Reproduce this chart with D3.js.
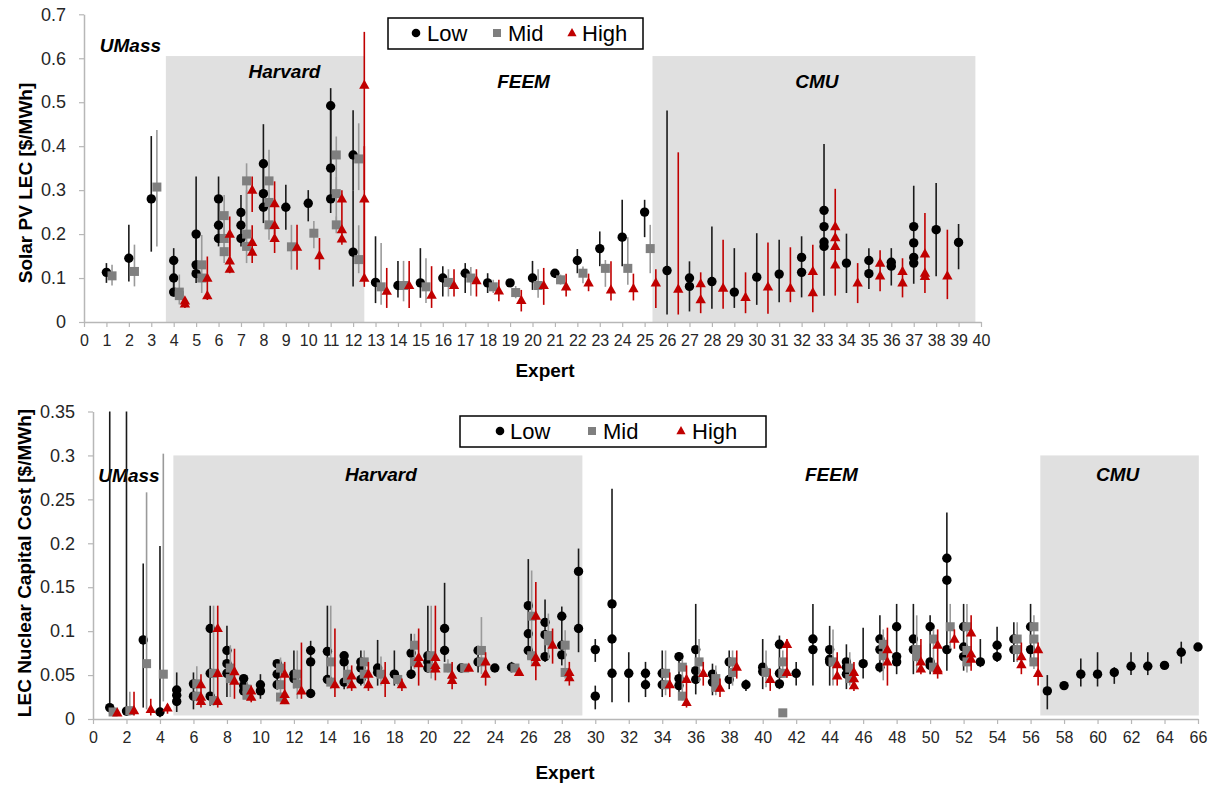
<!DOCTYPE html>
<html><head><meta charset="utf-8">
<script src="https://cdn.jsdelivr.net/npm/d3@7"></script>
<style>body{margin:0;background:#fff} svg text{font-family:"Liberation Sans",Arial,sans-serif}</style>
</head><body><svg id="c" width="1211" height="787"></svg>
<script>
// ---------- DATA : [expert, value, low end of bar, high end of bar] ----------
const topXTicks = d3.range(0, 41, 1);
const topYTicks = [0, 0.1, 0.2, 0.3, 0.4, 0.5, 0.6, 0.7];
const botXTicks = d3.range(0, 67, 2);
const botYTicks = [0, 0.05, 0.1, 0.15, 0.2, 0.25, 0.3, 0.35];
const seriesNames = ["Low", "Mid", "High"];

const topBands = [[3.65, 12.5, 0.605], [25.35, 39.75, 0.605]];
const topGroupLabels = [["UMass", 2.07, 0.614], ["Harvard", 8.94, 0.555], ["FEEM", 19.6, 0.532], ["CMU", 32.68, 0.532]];
const botBands = [[4.8, 29.23, 0.3], [56.58, 66.05, 0.3]];
const botGroupLabels = [["UMass", 2.15, 0.270], ["Harvard", 17.2, 0.271], ["FEEM", 44.1, 0.271], ["CMU", 61.2, 0.271]];

const topLow = [
[1,0.113,0.089,0.134],[2,0.145,0.092,0.221],[3,0.28,0.16,0.423],
[4,0.14,0.1,0.168],[4,0.1,0.07,0.14],[4,0.068,0.058,0.1],
[5,0.2,0.13,0.331],[5,0.13,0.1,0.2],[5,0.11,0.089,0.13],
[6,0.28,0.22,0.331],[6,0.22,0.19,0.28],[6,0.19,0.172,0.22],
[7,0.249,0.22,0.289],[7,0.22,0.19,0.25],[7,0.19,0.172,0.22],
[8,0.36,0.29,0.45],[8,0.292,0.26,0.36],[8,0.261,0.225,0.29],
[9,0.261,0.21,0.312],[10,0.27,0.229,0.3],
[11,0.492,0.35,0.532],[11,0.35,0.28,0.49],[11,0.28,0.248,0.35],
[12,0.38,0.3,0.482],[12,0.159,0.081,0.3],
[13,0.09,0.043,0.195],[14,0.083,0.056,0.139],[15,0.089,0.055,0.168],
[16,0.1,0.058,0.127],[17,0.111,0.066,0.134],[18,0.089,0.066,0.111],
[19,0.089,null,null],[20,0.1,0.073,0.139],[21,0.111,0.1,0.119],
[22,0.14,0.111,0.166],[23,0.167,0.127,0.206],[24,0.193,0.127,0.278],
[25,0.25,0.193,0.278],[26,0.117,0.017,0.481],
[27,0.1,0.024,0.138],[27,0.081,null,null],[28,0.092,0.03,0.217],
[29,0.068,0.032,0.168],[30,0.102,0.039,0.202],[31,0.109,0.045,0.187],
[32,0.147,0.056,0.195],[32,0.113,null,null],
[33,0.254,0.06,0.405],[33,0.217,null,null],[33,0.182,null,null],[33,0.172,null,null],
[34,0.134,0.066,0.201],[35,0.14,0.075,0.168],[35,0.11,null,null],
[36,0.136,0.083,0.168],[36,0.127,null,null],
[37,0.217,0.087,0.31],[37,0.18,null,null],[37,0.147,null,null],[37,0.134,null,null],
[38,0.21,0.104,0.316],[39,0.181,0.12,0.223]
];
const topMid = [
[1,0.105,0.083,0.13],[2,0.115,0.081,0.176],[3,0.307,0.172,0.437],
[4,0.068,0.04,0.108],[4,0.06,null,null],
[5,0.13,0.066,0.198],[5,0.1,null,null],
[6,0.242,0.16,0.289],[6,0.19,0.134,0.242],[6,0.16,null,null],
[7,0.321,0.2,0.361],[7,0.2,0.134,0.3],[7,0.172,null,null],
[8,0.321,0.22,0.392],[8,0.272,null,null],[8,0.221,0.187,0.27],
[9,0.171,0.119,0.221],[10,0.202,0.168,0.23],
[11,0.38,0.3,0.422],[11,0.292,0.22,0.33],[11,0.221,0.202,0.24],
[12,0.371,0.3,0.452],[12,0.142,0.111,0.22],
[13,0.08,0.039,0.18],[14,0.083,0.047,0.139],[15,0.08,0.043,0.145],
[16,0.09,0.058,0.12],[17,0.1,0.06,0.125],[18,0.08,0.066,0.096],
[19,0.067,0.054,0.082],[20,0.083,0.055,0.12],[21,0.096,0.085,0.108],
[22,0.111,0.088,0.126],[23,0.122,0.08,0.141],[24,0.122,0.085,0.193],
[25,0.167,0.111,0.221]
];
const topHigh = [
[4,0.048,0.032,0.056],[4,0.041,null,null],
[5,0.1,0.05,0.149],[5,0.06,null,null],
[6,0.2,0.15,0.24],[6,0.139,0.111,0.2],[6,0.12,null,null],
[7,0.3,0.25,0.331],[7,0.181,0.134,0.22],[7,0.159,null,null],
[8,0.269,0.2,0.32],[8,0.22,null,null],[8,0.19,0.157,0.22],
[9,0.17,0.119,0.221],[10,0.151,0.119,0.191],
[11,0.28,0.25,0.3],[11,0.21,0.176,0.25],[11,0.189,null,null],
[12,0.539,0.3,0.66],[12,0.28,0.1,0.4],[12,0.1,0.08,0.28],
[13,0.07,0.032,0.123],[14,0.083,0.032,0.139],[15,0.061,0.032,0.127],
[16,0.083,0.058,0.12],[17,0.094,0.058,0.12],[18,0.071,0.047,0.096],
[19,0.049,0.024,0.073],[20,0.083,0.039,0.123],[21,0.08,0.058,0.11],
[22,0.089,0.07,0.11],[23,0.073,0.049,0.138],[24,0.076,0.049,0.11],
[25,0.089,0.032,0.12],[26,0.075,0.017,0.386],
[27,0.087,0.02,0.113],[27,0.051,null,null],[28,0.077,0.03,0.187],
[29,0.056,0.02,0.113],[30,0.08,0.019,0.181],[31,0.077,0.045,0.17],
[32,0.115,0.022,0.176],[32,0.067,null,null],
[33,0.217,0.06,0.303],[33,0.192,null,null],[33,0.172,null,null],[33,0.13,null,null],
[34,0.089,0.043,0.134],[35,0.134,0.07,0.163],[35,0.105,null,null],
[36,0.115,0.056,0.145],[36,0.089,null,null],
[37,0.155,0.066,0.248],[37,0.111,null,null],[37,0.104,null,null],
[38,0.105,0.052,0.21]
];

const botLow = [
[1,0.013,0.005,0.35],[2,0.009,0.004,0.35],[3,0.09,0.013,0.177],[4,0.008,0.002,0.197],
[5,0.033,0.008,0.053],[5,0.027,null,null],[5,0.02,null,null],
[6,0.04,0.011,0.053],[6,0.026,null,null],
[7,0.103,0.015,0.129],[7,0.052,null,null],[7,0.026,null,null],
[8,0.078,0.025,0.106],[8,0.063,null,null],[8,0.052,null,null],
[9,0.046,0.023,0.05],[9,0.038,null,null],[9,0.032,null,null],
[10,0.039,0.023,0.051],[10,0.032,null,null],
[11,0.063,0.034,0.066],[11,0.051,null,null],[11,0.039,null,null],
[12,0.051,0.035,0.078],[12,0.046,null,null],
[13,0.078,0.025,0.089],[13,0.065,null,null],[13,0.029,null,null],
[14,0.077,0.04,0.129],[14,0.045,null,null],
[15,0.072,0.034,0.076],[15,0.065,null,null],[15,0.042,null,null],
[16,0.065,0.038,0.078],[16,0.058,null,null],[16,0.045,null,null],
[17,0.058,0.038,0.09],[17,0.053,null,null],
[18,0.051,0.038,0.078],
[19,0.075,0.046,0.097],[19,0.051,null,null],
[20,0.072,0.053,0.129],[20,0.065,null,null],[20,0.058,null,null],
[21,0.103,0.065,0.155],[21,0.078,null,null],
[22,0.058,null,null],
[23,0.078,0.053,0.079],[23,0.065,null,null],
[24,0.058,null,null],[25,0.059,0.053,0.065],
[26,0.129,0.068,0.182],[26,0.097,null,null],[26,0.078,null,null],
[27,0.11,0.065,0.136],[27,0.096,null,null],[27,0.071,null,null],
[28,0.117,0.061,0.128],[28,0.084,null,null],[28,0.073,null,null],
[29,0.168,0.076,0.194],[29,0.103,null,null],
[30,0.079,0.065,0.091],[30,0.026,0.011,0.038],
[31,0.131,0.019,0.262],[31,0.091,null,null],[31,0.052,null,null],
[32,0.052,0.019,0.076],
[33,0.052,0.025,0.065],[33,0.039,null,null],
[34,0.052,0.025,0.078],[34,0.039,null,null],
[35,0.071,0.027,0.076],[35,0.046,null,null],[35,0.038,null,null],
[36,0.079,0.028,0.131],[36,0.055,null,null],[36,0.045,null,null],
[37,0.051,0.027,0.063],[37,0.042,null,null],
[38,0.065,0.034,0.078],[38,0.045,null,null],
[39,0.039,0.032,0.045],
[40,0.059,0.034,0.091],[40,0.054,null,null],
[41,0.085,0.034,0.095],[41,0.052,null,null],[41,0.04,null,null],
[42,0.052,0.038,0.065],
[43,0.091,0.038,0.131],[43,0.079,null,null],
[44,0.079,0.038,0.106],[44,0.068,null,null],[44,0.065,null,null],
[45,0.065,0.034,0.085],[45,0.059,null,null],[45,0.051,null,null],
[46,0.063,0.046,0.104],
[47,0.091,0.053,0.118],[47,0.079,null,null],[47,0.059,null,null],
[48,0.105,0.051,0.131],[48,0.071,null,null],[48,0.065,null,null],
[49,0.091,0.051,0.131],[49,0.079,null,null],
[50,0.105,0.051,0.118],[50,0.065,null,null],[50,0.061,null,null],
[51,0.183,0.055,0.235],[51,0.158,null,null],[51,0.079,null,null],
[52,0.105,0.055,0.131],[52,0.082,null,null],[52,0.071,null,null],
[53,0.065,0.059,0.091],
[54,0.084,0.065,0.105],[54,0.071,null,null],
[55,0.091,0.065,0.11],[55,0.079,null,null],
[56,0.105,0.065,0.131],[56,0.079,null,null],
[57,0.032,0.011,0.05],[58,0.038,null,null],[59,0.051,0.037,0.069],
[60,0.051,0.037,0.076],[61,0.053,0.04,0.059],[62,0.06,0.05,0.076],
[63,0.06,0.05,0.076],[64,0.061,null,null],[65,0.076,0.063,0.088],
[66,0.082,null,null]
];
const botMid = [
[1,0.008,null,null],[2,0.0095,0.004,0.031],[3,0.063,0.011,0.258],[4,0.051,0.02,0.302],
[6,0.04,0.02,0.06],[6,0.026,null,null],
[7,0.052,0.015,0.129],[7,0.021,null,null],
[8,0.058,0.025,0.084],[8,0.046,null,null],
[9,0.034,0.021,0.042],[9,0.027,null,null],
[11,0.058,0.019,0.07],[11,0.039,null,null],[11,0.025,null,null],
[12,0.051,0.023,0.078],[12,0.04,null,null],
[14,0.065,0.034,0.129],[14,0.042,null,null],
[15,0.051,0.034,0.061],[15,0.046,null,null],
[16,0.065,0.038,0.078],[16,0.051,null,null],
[17,0.051,0.038,0.071],[18,0.045,0.038,0.05],
[19,0.084,0.057,0.097],[19,0.065,null,null],
[20,0.072,0.046,0.129],[20,0.058,null,null],
[21,0.058,0.053,0.068],[22,0.058,null,null],
[23,0.078,0.051,0.116],[23,0.065,null,null],
[25,0.058,null,null],
[26,0.117,0.061,0.169],[26,0.072,null,null],
[27,0.095,0.068,0.12],[27,0.089,null,null],
[28,0.084,0.046,0.101],[28,0.053,null,null],
[34,0.052,0.027,0.078],[34,0.039,null,null],
[35,0.059,0.021,0.068],[35,0.026,null,null],
[36,0.065,0.042,0.091],
[37,0.046,0.027,0.061],[37,0.036,null,null],
[38,0.065,0.038,0.078],[38,0.053,null,null],
[40,0.053,0.036,0.078],
[41,0.065,0.047,0.078],[41,0.052,null,null],[41,0.007,null,null],
[44,0.065,0.038,0.102],
[45,0.058,0.038,0.076],[45,0.046,null,null],
[47,0.085,0.044,0.102],[47,0.072,null,null],
[49,0.079,0.053,0.118],[49,0.071,null,null],
[50,0.091,0.053,0.102],[50,0.059,null,null],
[51,0.105,0.08,0.131],
[52,0.105,0.053,0.131],[52,0.078,null,null],[52,0.065,null,null],
[55,0.091,0.065,0.11],[55,0.079,null,null],
[56,0.105,0.057,0.118],[56,0.091,null,null],[56,0.065,null,null]
];
const botHigh = [
[1,0.007,null,null],[2,0.0095,0.004,0.031],[3,0.011,0.004,0.023],[4,0.0125,0.006,0.017],
[6,0.039,0.013,0.051],[6,0.025,null,null],[6,0.02,null,null],
[7,0.103,0.013,0.129],[7,0.052,null,null],[7,0.02,null,null],
[8,0.054,0.023,0.08],[8,0.043,null,null],
[9,0.032,0.019,0.038],[9,0.025,null,null],
[11,0.051,0.017,0.065],[11,0.028,null,null],[11,0.021,null,null],
[12,0.032,0.023,0.087],[14,0.039,0.025,0.103],
[15,0.049,0.032,0.061],[15,0.039,null,null],
[16,0.051,0.032,0.065],[16,0.039,null,null],
[17,0.044,0.025,0.065],[18,0.039,0.032,0.046],
[19,0.07,0.038,0.103],[19,0.063,null,null],
[20,0.07,0.044,0.129],[20,0.061,null,null],[20,0.057,null,null],
[21,0.05,0.034,0.065],[21,0.044,null,null],
[22,0.058,null,null],
[23,0.065,0.038,0.076],[23,0.051,null,null],
[25,0.053,null,null],
[26,0.117,0.044,0.156],[26,0.07,null,null],[26,0.064,null,null],
[27,0.084,0.063,0.103],
[28,0.053,0.038,0.065],[28,0.047,null,null],
[34,0.039,0.025,0.053],
[35,0.045,0.013,0.061],[35,0.019,null,null],
[36,0.052,0.038,0.065],[37,0.035,0.025,0.046],[38,0.059,0.046,0.078],
[40,0.045,0.032,0.057],
[41,0.085,0.047,0.091],[41,0.053,null,null],
[44,0.062,0.038,0.076],[44,0.049,null,null],
[45,0.053,0.032,0.065],[45,0.046,null,null],[45,0.038,null,null],
[47,0.079,0.038,0.104],[47,0.065,null,null],
[49,0.065,0.051,0.091],[49,0.057,null,null],
[50,0.084,0.046,0.102],[50,0.057,null,null],[50,0.055,null,null],
[51,0.091,0.08,0.102],
[52,0.098,0.055,0.118],[52,0.074,null,null],[52,0.068,null,null],
[55,0.071,0.051,0.087],[55,0.062,null,null],
[56,0.079,0.038,0.087],[56,0.052,null,null]
];

// ---------- DRAWING ----------
const svg = d3.select("#c");
const markerFill = {Low: "#000000", Mid: "#7f7f7f", High: "#c00000"};
const barStroke = {Low: "#1a1a1a", Mid: "#9a9a9a", High: "#c00000"};
const triPath = "M0,-5.6L5.2,3.6L-5.2,3.6Z";

function drawMarker(g, name, cx, cy) {
  if (name === "Low") g.append("circle").attr("cx", cx).attr("cy", cy).attr("r", 4.7).attr("fill", markerFill.Low);
  else if (name === "Mid") g.append("rect").attr("x", cx - 4.5).attr("y", cy - 4.5).attr("width", 9).attr("height", 9).attr("fill", markerFill.Mid);
  else g.append("path").attr("d", triPath).attr("transform", `translate(${cx},${cy})`).attr("fill", markerFill.High);
}

function drawPanel(c) {
  const x = d3.scaleLinear().domain(c.xDomain).range(c.xRange);
  const y = d3.scaleLinear().domain(c.yDomain).range(c.yRange);
  const g = svg.append("g");

  // shaded group bands
  g.selectAll("rect.band").data(c.bands).join("rect").attr("class", "band")
    .attr("x", d => x(d[0])).attr("width", d => x(d[1]) - x(d[0]))
    .attr("y", d => y(d[2])).attr("height", d => y(c.bandBottom) - y(d[2]))
    .attr("fill", "#e0e0e0");

  // axes
  const xa = g.append("g").attr("transform", `translate(0,${c.yRange[0]})`)
    .call(d3.axisBottom(x).tickValues(c.xTicks).tickFormat(d3.format("d")).tickSize(5).tickSizeOuter(0).tickPadding(c.xPad));
  const ya = g.append("g").attr("transform", `translate(${c.xRange[0]},0)`)
    .call(d3.axisLeft(y).tickValues(c.yTicks).tickFormat(d => d === 0 ? "0" : String(+d.toFixed(2))).tickSize(5).tickSizeOuter(0).tickPadding(c.yPad));
  [xa, ya].forEach(a => {
    a.select(".domain").attr("stroke", "#b7b7b7").attr("stroke-width", 1.5);
    a.selectAll(".tick line").attr("stroke", "#b7b7b7").attr("stroke-width", 1.2);
    a.selectAll(".tick text").attr("fill", "#262626").style("font-family", '"Liberation Sans",Arial,sans-serif');
  });
  xa.selectAll(".tick text").style("font-size", c.xFont + "px");
  ya.selectAll(".tick text").style("font-size", c.yFont + "px");

  // group labels
  g.selectAll("text.grp").data(c.groupLabels).join("text").attr("class", "grp")
    .attr("x", d => x(d[1])).attr("y", d => y(d[2])).attr("text-anchor", "middle")
    .style("font-size", "19px").style("font-weight", "bold").style("font-style", "italic")
    .text(d => d[0]);

  // series
  const series = [c.low, c.mid, c.high];
  series.forEach((data, i) => {
    const name = seriesNames[i];
    const off = c.offsets[i];
    const sg = g.append("g");
    sg.selectAll("line").data(data.filter(d => d[2] !== null)).join("line")
      .attr("x1", d => x(d[0] + off)).attr("x2", d => x(d[0] + off))
      .attr("y1", d => y(d[2])).attr("y2", d => y(d[3]))
      .attr("stroke", barStroke[name]).attr("stroke-width", 1.6);
    data.forEach(d => drawMarker(sg, name, x(d[0] + off), y(d[1])));
  });

  // legend
  const L = c.legend;
  const lg = g.append("g");
  lg.append("rect").attr("x", L.box[0]).attr("y", L.box[1]).attr("width", L.box[2]).attr("height", L.box[3])
    .attr("fill", "#fff").attr("stroke", "#000").attr("stroke-width", 1.5);
  seriesNames.forEach((n, i) => {
    const s = L.sym[i];
    if (n === "Low") lg.append("circle").attr("cx", s).attr("cy", L.cy).attr("r", 4.3).attr("fill", markerFill.Low);
    else if (n === "Mid") lg.append("rect").attr("x", s - 4).attr("y", L.cy - 4).attr("width", 8).attr("height", 8).attr("fill", markerFill.Mid);
    else lg.append("path").attr("d", "M0,-5L4.6,3.2L-4.6,3.2Z").attr("transform", `translate(${s},${L.cy})`).attr("fill", markerFill.High);
    lg.append("text").attr("x", L.txt[i]).attr("y", L.base).style("font-size", "22px").attr("fill", "#000").text(n);
  });

  // axis titles
  g.append("text").attr("transform", `translate(${c.yTitle[1]},${c.yTitle[2]}) rotate(-90)`)
    .attr("text-anchor", "middle").style("font-size", "19px").style("font-weight", "bold").text(c.yTitle[0]);
  g.append("text").attr("x", c.xTitle[0]).attr("y", c.xTitle[1]).attr("text-anchor", "middle")
    .style("font-size", "19px").style("font-weight", "bold").text("Expert");
}

drawPanel({
  xDomain: [0, 40], xRange: [84, 981], yDomain: [0, 0.7], yRange: [322, 14.3],
  xTicks: topXTicks, yTicks: topYTicks, xFont: 16, yFont: 18, xPad: 8, yPad: 13,
  bands: topBands, bandBottom: 0, groupLabels: topGroupLabels,
  low: topLow, mid: topMid, high: topHigh, offsets: [0, 0.25, 0.5],
  legend: {box: [388, 18, 255, 31], sym: [416, 497, 572], txt: [427, 508, 582], cy: 33, base: 41},
  yTitle: ["Solar PV LEC [$/MWh]", 32, 183], xTitle: [545, 377]
});
drawPanel({
  xDomain: [0, 66], xRange: [93, 1198], yDomain: [0, 0.35], yRange: [719, 411.5],
  xTicks: botXTicks, yTicks: botYTicks, xFont: 16, yFont: 18, xPad: 8, yPad: 13,
  bands: botBands, bandBottom: 0.004, groupLabels: botGroupLabels,
  low: botLow, mid: botMid, high: botHigh, offsets: [0, 0.2, 0.45],
  legend: {box: [460, 416, 306, 31], sym: [500, 592, 681], txt: [510, 603, 692], cy: 431, base: 439},
  yTitle: ["LEC  Nuclear Capital Cost [$/MWh]", 31, 563], xTitle: [565, 779]
});
</script>
</body></html>
